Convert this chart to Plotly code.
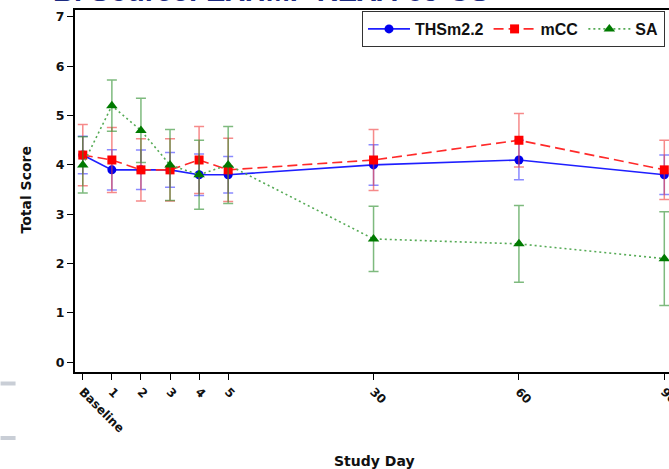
import plotly.graph_objects as go

# ---- data ----
day_labels = ["Baseline", "1", "2", "3", "4", "5", "30", "60", "90"]
day_pos = [0, 1, 2, 3, 4, 5, 10, 15, 20]  # ordinal positions on the axis

ths_mean = [4.2, 3.9, 3.9, 3.9, 3.8, 3.8, 4.0, 4.1, 3.8]
ths_err = [0.38, 0.41, 0.40, 0.35, 0.42, 0.37, 0.41, 0.40, 0.40]

mcc_mean = [4.2, 4.1, 3.9, 3.9, 4.1, 3.9, 4.1, 4.5, 3.9]
mcc_err = [0.62, 0.66, 0.63, 0.63, 0.68, 0.64, 0.62, 0.54, 0.60]

sa_mean = [4.0, 5.2, 4.7, 4.0, 3.8, 4.0, 2.5, 2.4, 2.1]
sa_err = [0.57, 0.52, 0.65, 0.72, 0.70, 0.78, 0.66, 0.78, 0.95]

y_ticks = [0, 1, 2, 3, 4, 5, 6, 7]

W, H = 669, 469
L, R, T, B = 74.5, 0, 10, 97
plot_w = W - L - R
plot_h = H - T - B

def px_x(px):
    return (px - L) / plot_w

def px_y(py):
    return (H - B - py) / plot_h

fig = go.Figure()

fig.add_trace(go.Scatter(
    x=day_pos, y=ths_mean, name="THSm2.2", mode="lines+markers",
    line=dict(color="#1f1fff", width=1.6),
    marker=dict(symbol="circle", size=9, color="#0000ee"),
    error_y=dict(type="data", array=ths_err, visible=True,
                 color="rgba(60,60,255,0.6)", thickness=1.5, width=5),
))
fig.add_trace(go.Scatter(
    x=day_pos, y=mcc_mean, name="mCC", mode="lines+markers",
    line=dict(color="#ff2a2a", width=1.6, dash="10px,5px"),
    marker=dict(symbol="square", size=9, color="#ff0000"),
    error_y=dict(type="data", array=mcc_err, visible=True,
                 color="rgba(240,60,60,0.6)", thickness=1.5, width=5),
))
fig.add_trace(go.Scatter(
    x=day_pos, y=sa_mean, name="SA", mode="lines+markers",
    line=dict(color="#55aa55", width=1.6, dash="2px,3px"),
    marker=dict(symbol="triangle-up", size=10, color="#007a00"),
    error_y=dict(type="data", array=sa_err, visible=True,
                 color="rgba(40,140,40,0.6)", thickness=1.5, width=5),
))

fig.update_layout(
    width=W, height=H,
    margin=dict(l=L, r=R, t=T, b=B, pad=0),
    paper_bgcolor="white", plot_bgcolor="white",
    showlegend=True,
    legend=dict(
        orientation="h", x=px_x(665), y=px_y(11), xanchor="right", yanchor="top",
        bgcolor="white", bordercolor="#333333", borderwidth=1,
        font=dict(family="Liberation Sans", size=16, color="#111111", weight="bold"),
        itemwidth=42, tracegroupgap=0,
    ),
    xaxis=dict(
        range=[-0.268, (W - 82.3) / 29.1], tickmode="array",
        tickvals=day_pos, ticktext=day_labels, tickangle=45,
        showline=True, linecolor="black", linewidth=2, mirror=True,
        ticks="outside", ticklen=6, tickcolor="black", tickwidth=1,
        showgrid=False, zeroline=False, automargin=False,
        ticklabeloverflow="allow",
        tickfont=dict(family="DejaVu Sans", size=12, color="#111111", weight="bold"),
    ),
    yaxis=dict(
        range=[-0.197, 7.14], tickmode="array", tickvals=y_ticks,
        showline=True, linecolor="black", linewidth=2,
        ticks="outside", ticklen=6, tickcolor="black", tickwidth=1,
        showgrid=False, zeroline=False, automargin=False,
        tickfont=dict(family="DejaVu Sans", size=12.5, color="#111111", weight="bold"),
    ),
    annotations=[
        dict(text="<b>Study Day</b>", xref="paper", yref="paper",
             x=px_x(374), y=px_y(461), xanchor="center", yanchor="middle",
             showarrow=False,
             font=dict(family="DejaVu Sans", size=14, color="#111111")),
        dict(text="<b>Total Score</b>", xref="paper", yref="paper",
             x=px_x(25), y=px_y(190), xanchor="center", yanchor="middle",
             showarrow=False, textangle=-90,
             font=dict(family="DejaVu Sans", size=14, color="#111111")),
        dict(text="<b>B. Source: EXHMP REXA-09-US</b>", xref="paper", yref="paper",
             x=px_x(50), y=px_y(-9.5), xanchor="left", yanchor="middle", showarrow=False,
             font=dict(family="Liberation Sans", size=29, color="#1c2a80")),
    ],
    shapes=[
        dict(type="rect", xref="paper", yref="paper",
             x0=px_x(0), x1=px_x(15), y0=px_y(381.5), y1=px_y(385.5),
             fillcolor="#c9ced6", line=dict(width=0), layer="above"),
        dict(type="rect", xref="paper", yref="paper",
             x0=px_x(0), x1=px_x(15), y0=px_y(436), y1=px_y(440),
             fillcolor="#c9ced6", line=dict(width=0), layer="above"),
    ],
)

fig.write_html(
    "out.html",
    config={"displayModeBar": False},
    post_script="document.body.style.margin='0';document.body.style.overflow='hidden';",
)
